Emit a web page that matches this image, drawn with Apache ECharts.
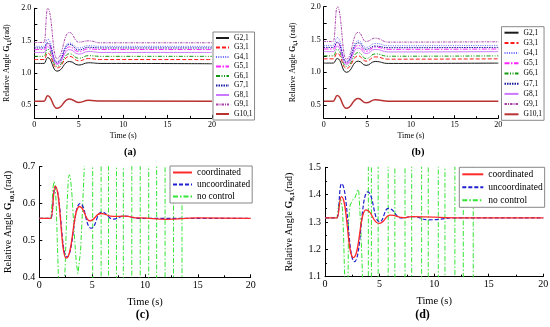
<!DOCTYPE html>
<html><head><meta charset="utf-8">
<script src="https://cdn.jsdelivr.net/npm/echarts@6/dist/echarts.min.js"></script>
<style>html,body{margin:0;padding:0;background:#fff}#c{width:550px;height:327px}</style>
</head><body><div id="c"></div>
<script>
// ---------- categories & tick labels ----------
const genNames = ['G2,1','G3,1','G4,1','G5,1','G6,1','G7,1','G8,1','G9,1','G10,1'];
const ctrlNames = ['coordinated','uncoordinated','no control'];
const timeTicks = [0,5,10,15,20];
const yLabelsAB = [0.5,1.0,1.5,2.0];
const yTicksAB = [0.5,0.75,1.0,1.25,1.5,1.75,2.0];

// ---------- panel (a) ----------
const tA   = [0, 1.1, 1.5, 2.55, 3.95, 5.0, 6.1, 7.5, 20];
const aG2  = [1.145,1.145,1.235,1.025,1.175,1.12,1.155,1.145,1.14];
const aG3  = [1.205,1.205,1.305,1.075,1.255,1.185,1.22,1.205,1.205];
const aG4  = [1.41,1.41,1.52,1.175,1.46,1.385,1.42,1.41,1.41];
const aG5  = [1.36,1.36,1.45,1.145,1.40,1.33,1.37,1.36,1.36];
const aG6  = [1.255,1.255,1.365,1.10,1.295,1.225,1.265,1.255,1.255];
const aG7  = [1.385,1.385,1.465,1.16,1.44,1.355,1.395,1.385,1.385];
const aG8  = [1.315,1.315,1.405,1.13,1.36,1.29,1.33,1.315,1.315];
const aG9  = [1.47,1.47,2.00,1.22,1.625,1.475,1.495,1.465,1.465];
const aG10 = [0.56,0.56,0.645,0.448,0.595,0.54,0.572,0.562,0.56];

// ---------- panel (b) ----------
const tB   = [0, 1.1, 1.55, 2.6, 3.95, 4.85, 5.9, 7.4, 20];
const bG2  = [1.14,1.14,1.21,1.0,1.17,1.105,1.165,1.135,1.14];
const bG3  = [1.205,1.205,1.29,1.06,1.25,1.17,1.235,1.2,1.205];
const bG4  = [1.41,1.41,1.53,1.17,1.48,1.38,1.44,1.405,1.41];
const bG5  = [1.355,1.355,1.45,1.14,1.41,1.32,1.385,1.35,1.355];
const bG6  = [1.25,1.25,1.35,1.09,1.30,1.21,1.28,1.245,1.25];
const bG7  = [1.38,1.38,1.46,1.155,1.45,1.35,1.40,1.375,1.38];
const bG8  = [1.315,1.315,1.40,1.12,1.37,1.285,1.35,1.31,1.315];
const bG9  = [1.47,1.47,2.0,1.2,1.61,1.47,1.52,1.46,1.465];
const bG10 = [0.56,0.56,0.645,0.45,0.60,0.535,0.58,0.558,0.56];

// ---------- panel (c) G10,1 ----------
const tCc = [0,1.1,1.5,2.55,3.8,4.8,5.8,7.0,8.0,9.5,12,15,20];
const vCc = [0.56,0.56,0.647,0.452,0.592,0.553,0.573,0.565,0.566,0.561,0.557,0.561,0.56];
const tCu = [0,1.1,1.5,2.6,3.85,4.9,5.9,7.0,8.0,9.5,20];
const vCu = [0.56,0.56,0.645,0.455,0.6,0.533,0.577,0.558,0.566,0.56,0.56];
const tCn = [0,1.1,1.2,1.3,1.4,1.5,1.6,1.7,1.8,1.9,2.1,2.3,2.45,2.6,2.75,2.85,2.95,3.1,3.3,3.5,3.65,3.75,3.9,4.05,4.2,4.3,4.4,
             5.05,5.05,5.85,5.85,6.55,6.55,7.3,7.3,7.95,7.95,8.75,8.75,9.55,9.55,10.35,10.35,11.1,11.1,11.9,11.9,12.7,12.7,13.5,13.5,20];
const vCn = [0.56,0.56,0.6,0.645,0.66,0.65,0.6,0.5,0.41,0.33,0.29,0.35,0.43,0.58,0.67,0.678,0.67,0.62,0.52,0.44,0.41,0.412,0.47,0.56,0.66,0.72,5,
             5,-4,-4,5,5,-4,-4,5,5,-4,-4,5,5,-4,-4,5,5,-4,-4,5,5,-4,-4,5,5];

// ---------- panel (d) G8,1 ----------
const tDc = [0,1.1,1.5,2.6,3.75,4.95,6.0,7.2,8.0,12,20];
const vDc = [1.315,1.315,1.393,1.17,1.344,1.295,1.325,1.316,1.32,1.315,1.315];
const tDu = [0,1.1,1.5,2.7,3.9,5.0,5.8,7.0,8.0,9.5,12,20];
const vDu = [1.315,1.315,1.44,1.155,1.41,1.30,1.35,1.315,1.32,1.308,1.315,1.315];
const tDn = [0,1.1,1.25,1.4,1.5,1.6,1.7,1.8,1.9,2.0,2.1,2.15,2.3,2.5,2.7,2.85,3.0,3.1,3.25,3.4,3.55,
             3.97,3.97,4.25,4.25,4.87,4.87,5.79,5.79,6.4,6.4,7.33,7.33,7.94,7.94,8.85,8.85,9.46,9.46,10.38,10.38,10.99,10.99,11.9,11.9,12.67,12.67,13.58,13.58,20];
const vDn = [1.315,1.315,1.36,1.39,1.385,1.35,1.25,1.1,0.9,0.8,1.0,1.3,1.36,1.38,1.385,1.40,1.42,1.41,1.3,1.15,0.9,
             -4,5,5,-4,-4,5,5,-4,-4,5,5,-4,-4,5,5,-4,-4,5,5,-4,-4,5,5,-4,-4,5,5,-4,-4];

// ---------- styles ----------
const F = 'Liberation Serif';
const genStyle = [
  {color:'#1a1a1a', type:'solid', width:1},
  {color:'#ff1a1a', type:[4,2], width:1},
  {color:'#6666ff', type:[1,1.3], width:1},
  {color:'#ff22ff', type:[5,1.5,1.5,1.5], width:1},
  {color:'#119911', type:[4,1.5,1,1.5,1,1.5], width:1},
  {color:'#1a1aa0', type:[1.5,1], width:1},
  {color:'#cc77ff', type:'solid', width:1},
  {color:'#aa44aa', type:[2.5,1,1,1], width:1},
  {color:'#b83232', type:'solid', width:1.5}
];
const ctrlStyle = [
  {color:'#ff2a2a', type:'solid', width:1.3},
  {color:'#2020d0', type:[4,2], width:1.2},
  {color:'#33e633', type:[5,2,1.5,2], width:1}
];

const zip = (t, v) => t.map((x, i) => [x, v[i]]);
const aVals = [aG2,aG3,aG4,aG5,aG6,aG7,aG8,aG9,aG10];
const bVals = [bG2,bG3,bG4,bG5,bG6,bG7,bG8,bG9,bG10];

function xAx(gi, fsLab, fsName, gap) {
  return {type:'value', gridIndex:gi, min:0, max:20, interval:5,
    name:'Time (s)', nameLocation:'middle', nameGap:gap,
    nameTextStyle:{fontFamily:F, fontSize:fsName, color:'#000'},
    axisLine:{lineStyle:{color:'#000', width:1}},
    axisTick:{inside:true, length:3, lineStyle:{color:'#000'}},
    minorTick:{show:true, splitNumber:2, length:2, lineStyle:{color:'#000'}},
    axisLabel:{fontFamily:F, fontSize:fsLab, color:'#000', margin:3,
      formatter:v => timeTicks.includes(v) ? String(v) : ''},
    splitLine:{show:false}, minorSplitLine:{show:false}};
}
function yName(sub, space, fs, fsSub) {
  return {
    name:'{n|Relative Angle }{g|G}{s|' + sub + '}{n|' + space + '(rad)}',
    nameTextStyle:{fontFamily:F, fontSize:fs, color:'#000',
      rich:{
        n:{fontFamily:F, fontSize:fs, color:'#000', lineHeight:fs+3},
        g:{fontFamily:F, fontSize:fs, fontWeight:'bold', color:'#000', lineHeight:fs+3},
        s:{fontFamily:F, fontSize:fsSub, fontWeight:'bold', color:'#000', verticalAlign:'bottom', lineHeight:fsSub}
      }}
  };
}
function yAxAB(gi, gap, sub, space) {
  return Object.assign({type:'value', gridIndex:gi, min:0.3, max:2.0,
    nameLocation:'middle', nameGap:gap,
    axisLine:{show:true, lineStyle:{color:'#000', width:1}},
    axisTick:{show:true, inside:true, length:3, customValues:yTicksAB, lineStyle:{color:'#000'}},
    axisLabel:{fontFamily:F, fontSize:8, color:'#000', margin:3, customValues:yLabelsAB,
      formatter:v => v.toFixed(1)},
    splitLine:{show:false}}, yName(sub, space, 8, 5.5));
}
function yAxCD(gi, mn, mx, gap, sub) {
  return Object.assign({type:'value', gridIndex:gi, min:mn, max:mx, interval:0.1,
    nameLocation:'middle', nameGap:gap,
    axisLine:{show:true, lineStyle:{color:'#000', width:1}},
    axisTick:{show:true, inside:true, length:3, lineStyle:{color:'#000'}},
    minorTick:{show:true, splitNumber:2, length:2, lineStyle:{color:'#000'}},
    axisLabel:{fontFamily:F, fontSize:10, color:'#000', margin:4, formatter:v => v.toFixed(1)},
    splitLine:{show:false}, minorSplitLine:{show:false}}, yName(sub, '', 10, 7));
}

const series = [];
genNames.forEach((n, i) => {
  series.push({type:'line', name:n, xAxisIndex:0, yAxisIndex:0, data:zip(tA, aVals[i]),
    symbol:'none', smooth:0.5, smoothMonotone:'x', lineStyle:genStyle[i], itemStyle:{color:genStyle[i].color}, z:2+(i===0?1:0)});
});
genNames.forEach((n, i) => {
  series.push({type:'line', name:n, xAxisIndex:1, yAxisIndex:1, data:zip(tB, bVals[i]),
    symbol:'none', smooth:0.5, smoothMonotone:'x', lineStyle:genStyle[i], itemStyle:{color:genStyle[i].color}});
});
// panel c
series.push({type:'line', name:ctrlNames[2], xAxisIndex:2, yAxisIndex:2, data:zip(tCn, vCn), symbol:'none',
  lineStyle:ctrlStyle[2], itemStyle:{color:ctrlStyle[2].color}, z:1});
series.push({type:'line', name:ctrlNames[1], xAxisIndex:2, yAxisIndex:2, data:zip(tCu, vCu), symbol:'none',
  smooth:0.5, smoothMonotone:'x', lineStyle:ctrlStyle[1], itemStyle:{color:ctrlStyle[1].color}, z:2});
series.push({type:'line', name:ctrlNames[0], xAxisIndex:2, yAxisIndex:2, data:zip(tCc, vCc), symbol:'none',
  smooth:0.5, smoothMonotone:'x', lineStyle:ctrlStyle[0], itemStyle:{color:ctrlStyle[0].color}, z:3});
// panel d
series.push({type:'line', name:ctrlNames[2], xAxisIndex:3, yAxisIndex:3, data:zip(tDn, vDn), symbol:'none',
  lineStyle:ctrlStyle[2], itemStyle:{color:ctrlStyle[2].color}, z:1});
series.push({type:'line', name:ctrlNames[1], xAxisIndex:3, yAxisIndex:3, data:zip(tDu, vDu), symbol:'none',
  smooth:0.5, smoothMonotone:'x', lineStyle:ctrlStyle[1], itemStyle:{color:ctrlStyle[1].color}, z:2});
series.push({type:'line', name:ctrlNames[0], xAxisIndex:3, yAxisIndex:3, data:zip(tDc, vDc), symbol:'none',
  smooth:0.5, smoothMonotone:'x', lineStyle:ctrlStyle[0], itemStyle:{color:ctrlStyle[0].color}, z:3});

function legend(left, top, names, fs, iw, gap) {
  return {orient:'vertical', left:left, top:top, data:names, itemWidth:iw, itemHeight:8, itemGap:gap,
    padding:[2,2,2,2], borderColor:'#888', borderWidth:1, backgroundColor:'#fff', borderRadius:0,
    selectedMode:false, itemStyle:{opacity:0, borderWidth:0},
    textStyle:{fontFamily:F, fontSize:fs, color:'#000'}};
}

const option = {
  animation:false,
  backgroundColor:'#fff',
  grid:[
    {left:34.3, top:8.3, width:177.7, height:109.6, outerBoundsMode:'none', containLabel:false},
    {left:323.7, top:6.7, width:174.6, height:111.5, outerBoundsMode:'none', containLabel:false},
    {left:39.3, top:166.7, width:211.4, height:110.6, outerBoundsMode:'none', containLabel:false},
    {left:325, top:167.3, width:218.3, height:109.4, outerBoundsMode:'none', containLabel:false}
  ],
  xAxis:[ xAx(0, 8, 8, 14), xAx(1, 8, 8, 14), xAx(2, 10, 10.5, 19), xAx(3, 10, 10.5, 19) ],
  yAxis:[ yAxAB(0, 22, 'i,1', ''), yAxAB(1, 25, 'i,1', ' '), yAxCD(2, 0.4, 0.7, 24, '10,1'), yAxCD(3, 1.1, 1.5, 29, '8,1') ],
  legend:[
    legend(213, 32, genNames, 7.5, 13, 1.5),
    legend(501.5, 26.7, genNames, 7.5, 14, 2.2),
    legend(170, 166, ctrlNames, 9.3, 19, 3),
    legend(459.3, 167.3, ctrlNames, 9.5, 21, 3)
  ],
  graphic:[
    {type:'text', x:130, y:152, style:{text:'(a)', font:'bold 10.5px "Liberation Serif"', fill:'#000', align:'center', verticalAlign:'middle'}},
    {type:'text', x:418, y:152, style:{text:'(b)', font:'bold 10.5px "Liberation Serif"', fill:'#000', align:'center', verticalAlign:'middle'}},
    {type:'text', x:142.5, y:315, style:{text:'(c)', font:'bold 12px "Liberation Serif"', fill:'#000', align:'center', verticalAlign:'middle'}},
    {type:'text', x:422.5, y:315, style:{text:'(d)', font:'bold 12px "Liberation Serif"', fill:'#000', align:'center', verticalAlign:'middle'}}
  ],
  series:series
};
const chart = echarts.init(document.getElementById('c'), null, {renderer:'canvas'});
chart.setOption(option);
</script></body></html>
